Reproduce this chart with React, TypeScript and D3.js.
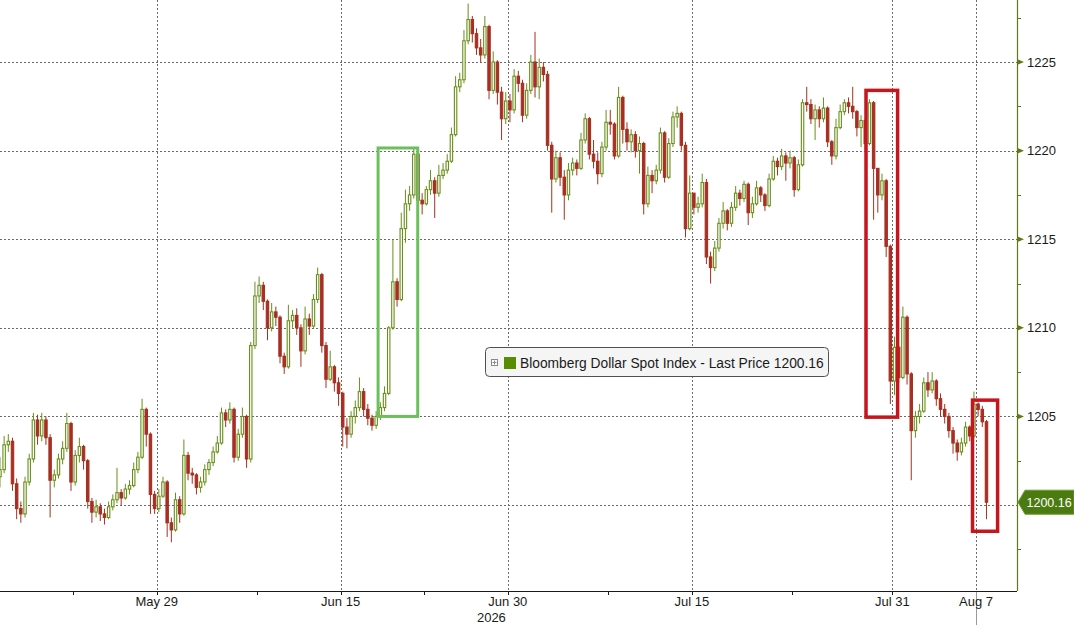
import React from "react";
import * as d3 from "d3";

// [close, high, low]; each bar opens at the previous close
type Bar = [number, number, number];

const firstOpen = 1201.6;

const mayBars: Bar[] = [
  [1202.0, 1202.7, 1201.0], [1203.4, 1203.9, 1201.8], [1203.6, 1204.0, 1203.0], [1201.2, 1203.8, 1200.8],
  [1199.8, 1201.5, 1199.2], [1199.5, 1200.2, 1199.0], [1201.3, 1201.6, 1199.3], [1202.6, 1202.9, 1201.1],
  [1204.8, 1205.2, 1202.4], [1203.9, 1205.1, 1203.4], [1204.8, 1205.2, 1203.6], [1203.8, 1205.0, 1203.4],
  [1201.4, 1204.0, 1199.3], [1201.7, 1202.0, 1201.0], [1202.6, 1202.9, 1201.5], [1203.2, 1203.6, 1202.3],
  [1204.6, 1205.2, 1203.0], [1201.3, 1204.7, 1200.8], [1202.8, 1203.1, 1201.1], [1203.3, 1203.8, 1202.4],
  [1202.5, 1203.4, 1202.0], [1200.2, 1202.6, 1199.8], [1199.6, 1200.4, 1199.0], [1199.9, 1200.3, 1199.3],
  [1199.5, 1200.1, 1199.1], [1199.3, 1199.8, 1198.9], [1199.9, 1200.2, 1199.2], [1200.3, 1200.6, 1199.7],
  [1200.7, 1202.1, 1200.1], [1200.4, 1200.9, 1200.0], [1200.9, 1201.2, 1200.3], [1201.1, 1201.4, 1200.6],
  [1202.0, 1202.4, 1201.0], [1202.7, 1203.0, 1201.8], [1205.4, 1206.0, 1202.6], [1204.0, 1205.5, 1203.3],
  [1200.6, 1204.1, 1199.5], [1199.8, 1200.8, 1199.5], [1200.5, 1200.9, 1199.6], [1201.3, 1201.6, 1200.4],
  [1199.0, 1201.4, 1198.2], [1198.6, 1199.3, 1197.9],
];

const junBars: Bar[] = [
  [1200.3, 1200.7, 1198.5], [1199.5, 1200.5, 1199.0], [1202.8, 1203.7, 1199.4], [1201.8, 1203.0, 1201.4],
  [1201.7, 1202.1, 1201.2], [1201.0, 1201.8, 1200.6], [1201.3, 1201.6, 1200.7], [1202.0, 1202.3, 1201.1],
  [1202.4, 1202.6, 1201.7], [1203.0, 1203.3, 1202.2], [1203.5, 1203.9, 1202.9], [1205.2, 1205.5, 1203.4],
  [1204.8, 1205.4, 1204.4], [1205.4, 1205.8, 1204.6], [1202.7, 1205.5, 1202.4], [1204.0, 1204.3, 1202.5],
  [1205.0, 1205.5, 1203.8], [1202.6, 1205.1, 1202.1], [1209.0, 1209.2, 1202.4], [1211.8, 1212.6, 1208.8],
  [1212.4, 1212.9, 1211.4], [1211.5, 1212.6, 1211.0], [1210.0, 1211.6, 1209.3], [1210.9, 1211.4, 1209.8],
  [1210.6, 1211.2, 1210.1], [1208.4, 1210.7, 1208.0], [1207.8, 1208.6, 1207.4], [1210.4, 1211.3, 1207.7],
  [1210.7, 1211.0, 1210.0], [1210.0, 1211.1, 1209.6], [1208.7, 1210.2, 1207.8], [1210.5, 1211.2, 1208.5],
  [1210.1, 1210.8, 1209.6], [1211.6, 1211.9, 1210.0], [1213.0, 1213.4, 1211.4], [1209.0, 1213.1, 1208.6],
  [1207.1, 1209.2, 1206.6], [1207.8, 1208.7, 1207.0], [1206.9, 1207.9, 1206.4], [1206.3, 1207.2, 1205.6],
  [1204.4, 1206.4, 1203.3], [1204.0, 1204.9, 1203.2], [1205.0, 1205.3, 1203.8], [1205.5, 1205.9, 1204.6],
  [1206.4, 1207.2, 1205.3], [1205.4, 1206.6, 1205.0], [1204.9, 1205.7, 1204.5], [1204.5, 1205.1, 1204.2],
  [1205.0, 1205.3, 1204.3], [1205.5, 1205.8, 1204.8], [1206.3, 1206.7, 1205.3], [1210.0, 1210.1, 1206.2],
  [1212.6, 1215.0, 1209.9], [1211.6, 1212.8, 1211.2], [1215.6, 1216.5, 1211.5], [1217.0, 1217.8, 1214.8],
  [1217.5, 1218.0, 1216.6], [1219.8, 1220.2, 1217.3], [1217.2, 1219.9, 1216.6], [1217.0, 1217.6, 1216.4],
  [1217.8, 1218.0, 1216.9], [1218.3, 1218.9, 1217.5], [1217.6, 1218.5, 1216.2], [1218.6, 1219.2, 1217.4],
  [1218.9, 1219.3, 1218.4], [1219.4, 1219.8, 1218.7], [1220.9, 1221.3, 1219.3], [1223.6, 1224.2, 1220.8],
  [1224.0, 1224.4, 1223.3], [1226.2, 1226.8, 1223.8], [1227.4, 1228.3, 1226.0], [1226.6, 1227.6, 1226.1],
  [1225.8, 1226.9, 1225.4], [1225.4, 1226.3, 1225.0], [1227.0, 1227.6, 1225.2], [1223.4, 1227.1, 1222.9],
  [1225.0, 1225.6, 1223.2], [1223.3, 1225.1, 1222.6], [1221.8, 1223.6, 1220.6], [1222.8, 1223.3, 1221.5],
  [1222.3, 1223.2, 1221.6], [1224.2, 1224.6, 1222.1], [1223.8, 1224.5, 1223.3], [1222.0, 1224.0, 1221.6],
];

const julBars: Bar[] = [
  [1223.4, 1223.8, 1221.8], [1225.0, 1225.4, 1223.2], [1223.6, 1226.7, 1223.0], [1224.7, 1225.2, 1222.9],
  [1224.3, 1225.0, 1223.9], [1220.3, 1224.5, 1220.0], [1218.4, 1220.5, 1216.5], [1219.6, 1220.0, 1218.2],
  [1218.5, 1219.9, 1218.0], [1217.5, 1218.9, 1216.1], [1218.9, 1219.3, 1217.2], [1219.3, 1219.6, 1218.6],
  [1219.0, 1219.5, 1218.6], [1220.6, 1221.0, 1218.9], [1221.8, 1222.1, 1220.4], [1219.8, 1221.9, 1219.5],
  [1219.4, 1220.6, 1219.0], [1218.7, 1219.9, 1218.1], [1220.2, 1220.5, 1218.5], [1221.6, 1222.3, 1220.0],
  [1221.5, 1222.3, 1220.9], [1219.7, 1221.6, 1219.5], [1223.0, 1223.6, 1219.6], [1221.2, 1223.1, 1220.4],
  [1220.5, 1221.6, 1220.0], [1220.9, 1221.2, 1219.9], [1220.0, 1221.1, 1219.6], [1220.4, 1220.8, 1218.7],
  [1217.0, 1220.5, 1216.4], [1218.6, 1219.1, 1216.8], [1218.3, 1218.9, 1217.6], [1218.9, 1219.2, 1218.1],
  [1221.0, 1221.3, 1218.7], [1218.5, 1221.1, 1218.2], [1220.4, 1220.7, 1218.4], [1221.9, 1222.2, 1220.2],
  [1222.1, 1222.5, 1221.3], [1220.3, 1222.2, 1220.0], [1215.6, 1220.5, 1215.1], [1217.6, 1218.6, 1215.5],
  [1216.8, 1217.6, 1216.4], [1217.0, 1217.4, 1216.5], [1218.2, 1218.7, 1216.8], [1214.0, 1218.4, 1213.6],
  [1213.4, 1214.3, 1212.5], [1214.5, 1214.9, 1213.2], [1215.9, 1216.2, 1214.3], [1216.6, 1217.1, 1215.6],
  [1215.9, 1216.7, 1215.5], [1216.8, 1217.1, 1215.7], [1217.6, 1218.0, 1216.6], [1217.3, 1217.8, 1216.9],
  [1218.1, 1218.3, 1217.1], [1216.5, 1218.2, 1215.8], [1217.0, 1217.4, 1216.2], [1217.9, 1218.3, 1216.9],
  [1217.5, 1218.0, 1217.1], [1216.9, 1217.6, 1216.6], [1218.4, 1218.7, 1216.8], [1219.4, 1219.7, 1218.3],
  [1219.1, 1219.6, 1218.6], [1219.7, 1220.1, 1218.9], [1219.3, 1219.9, 1218.3], [1219.6, 1220.0, 1219.0],
  [1217.8, 1219.7, 1217.4], [1219.2, 1219.5, 1217.7], [1222.7, 1222.9, 1219.1], [1222.6, 1223.6, 1222.2],
  [1221.8, 1222.9, 1221.5], [1222.3, 1222.6, 1220.6], [1221.8, 1222.5, 1221.3], [1222.4, 1223.0, 1221.6],
  [1220.5, 1222.5, 1220.2], [1219.7, 1220.6, 1219.2], [1221.3, 1221.8, 1219.5], [1222.2, 1222.6, 1221.2],
  [1222.7, 1222.9, 1222.0], [1222.5, 1223.0, 1222.1], [1222.2, 1223.6, 1221.8], [1221.3, 1222.3, 1220.8],
  [1221.7, 1222.0, 1220.2], [1220.4, 1221.8, 1220.0], [1222.7, 1222.9, 1220.3], [1219.0, 1222.8, 1216.1],
  [1217.5, 1218.3, 1216.5], [1218.3, 1218.7, 1217.2], [1214.6, 1218.4, 1214.0], [1207.0, 1214.7, 1205.7],
  [1208.9, 1209.5, 1206.2], [1207.2, 1209.0, 1206.9], [1210.6, 1211.2, 1207.1], [1207.4, 1210.7, 1206.8],
];

const augBars: Bar[] = [
  [1204.2, 1207.5, 1201.4], [1205.0, 1205.3, 1203.8], [1205.3, 1205.7, 1204.6], [1206.9, 1207.2, 1205.2],
  [1206.5, 1207.5, 1206.1], [1207.0, 1207.5, 1206.3], [1206.0, 1207.1, 1205.6], [1205.4, 1206.3, 1205.0],
  [1205.0, 1205.7, 1204.6], [1204.2, 1205.2, 1203.8], [1203.5, 1204.4, 1202.9], [1203.0, 1203.7, 1202.5],
  [1203.5, 1203.8, 1202.8], [1204.4, 1204.7, 1203.3], [1203.9, 1204.5, 1203.6], [1205.7, 1206.4, 1203.8],
  [1205.4, 1205.8, 1205.0], [1204.7, 1205.6, 1204.4], [1200.16, 1204.8, 1199.2],
];

// x axis is in trading days counted from May 29
const barsPerDay = 4;
const firstBarDay = -9.375;
const tickDays = [0, 11, 21, 32, 44, 49];
const tickLabels = ["May 29", "Jun 15", "Jun 30", "Jul 15", "Jul 31", "Aug 7"];
const minorTickDays = [-5, 6, 16, 27, 38];
const yearLabel = "2026";

const priceTicks = [1200, 1205, 1210, 1215, 1220, 1225];
const minorPriceTicks = [1197.5, 1202.5, 1207.5, 1212.5, 1217.5, 1222.5, 1227.5];
const lastPrice = 1200.16;
const seriesName = "Bloomberg Dollar Spot Index - Last Price";

const highlightBoxes = [
  { from: 13.24, to: 15.61, low: 1205.0, high: 1220.15, color: "#6cc05c", width: 3 },
  { from: 42.42, to: 44.31, low: 1204.96, high: 1223.4, color: "#c4161c", width: 3.5 },
  { from: 48.79, to: 50.29, low: 1198.52, high: 1205.92, color: "#c4161c", width: 3.5 },
];

const W = 1074;
const H = 625;
const plotRight = 1017;
const plotBottom = 591;

const font = "'Liberation Sans', Arial, sans-serif";
const upColor = "#688f17";
const downFill = "#b02a28";
const downStroke = "#a3321f";
const axisGreen = "#5f7a14";
const gridColor = "#6a6a6a";

export default function App() {
  const x = d3.scaleLinear().domain([-9.372, 51.45]).range([0, plotRight]);
  const y = d3.scaleLinear().domain([1195.15, 1228.5]).range([plotBottom, 0]);

  const bars = [...mayBars, ...junBars, ...julBars, ...augBars];
  const candles = bars.map(([c, h, l], i) => {
    const o = i === 0 ? firstOpen : bars[i - 1][0];
    return {
      t: firstBarDay + i / barsPerDay,
      o,
      c,
      h: Math.max(h, o, c),
      l: Math.min(l, o, c),
    };
  });

  const bodyW = 2.4;

  return (
    <div style={{ position: "absolute", left: 0, top: 0 }}>
      <svg width={W} height={H} style={{ display: "block", background: "#fff" }}>
        <defs>
          <clipPath id="plot-clip">
            <rect x={0} y={0} width={plotRight} height={plotBottom} />
          </clipPath>
        </defs>

        {/* grid */}
        <g stroke={gridColor} strokeWidth={1} strokeDasharray="2,2">
          {priceTicks.map((p) => (
            <line key={p} x1={0} x2={plotRight} y1={Math.round(y(p)) + 0.5} y2={Math.round(y(p)) + 0.5} />
          ))}
          {tickDays.map((d) => (
            <line key={d} x1={Math.round(x(d)) + 0.5} x2={Math.round(x(d)) + 0.5} y1={0} y2={plotBottom} />
          ))}
        </g>

        {/* candles */}
        <g clipPath="url(#plot-clip)">
          {candles.map((k, i) => {
            const cx = x(k.t);
            const up = k.c >= k.o;
            const top = y(Math.max(k.o, k.c));
            const bh = Math.max(0.8, Math.abs(y(k.o) - y(k.c)));
            return (
              <g key={i}>
                <line x1={cx} x2={cx} y1={y(k.h)} y2={y(k.l)} stroke={up ? upColor : downStroke} strokeWidth={1} />
                <rect
                  x={cx - bodyW / 2}
                  y={top}
                  width={bodyW}
                  height={bh}
                  fill={up ? "#ffffff" : downFill}
                  stroke={up ? upColor : downStroke}
                  strokeWidth={1.1}
                />
              </g>
            );
          })}
        </g>

        {/* highlight boxes */}
        {highlightBoxes.map((b, i) => (
          <rect
            key={i}
            x={x(b.from)}
            y={y(b.high)}
            width={x(b.to) - x(b.from)}
            height={y(b.low) - y(b.high)}
            fill="none"
            stroke={b.color}
            strokeWidth={b.width}
          />
        ))}

        {/* bottom axis */}
        <line x1={0} x2={plotRight} y1={plotBottom + 0.5} y2={plotBottom + 0.5} stroke="#1a1a1a" strokeWidth={1.2} />
        {[...tickDays, ...minorTickDays].map((d) => (
          <line key={d} x1={Math.round(x(d)) + 0.5} x2={Math.round(x(d)) + 0.5} y1={plotBottom} y2={plotBottom + 4} stroke="#1a1a1a" />
        ))}
        <line x1={Math.round(x(49)) + 0.5} x2={Math.round(x(49)) + 0.5} y1={plotBottom + 1} y2={H} stroke="#9a9a9a" />
        {tickDays.map((d, i) => (
          <text key={d} x={x(d)} y={606} textAnchor="middle" fontFamily={font} fontSize={13} fill="#1a1a1a">
            {tickLabels[i]}
          </text>
        ))}
        <text x={x(21) - 2} y={622} textAnchor="end" fontFamily={font} fontSize={13} fill="#1a1a1a">
          {yearLabel}
        </text>

        {/* right axis */}
        <line x1={plotRight + 0.5} x2={plotRight + 0.5} y1={0} y2={plotBottom} stroke={axisGreen} strokeWidth={1.2} />
        {minorPriceTicks.map((p) => (
          <line key={p} x1={plotRight} x2={plotRight + 4} y1={Math.round(y(p)) + 0.5} y2={Math.round(y(p)) + 0.5} stroke={axisGreen} />
        ))}
        {priceTicks
          .filter((p) => p !== 1200)
          .map((p) => (
            <g key={p}>
              <path
                d={`M${plotRight},${y(p) - 3} L${plotRight + 7},${y(p)} L${plotRight},${y(p) + 3} Z`}
                fill={axisGreen}
              />
              <text x={plotRight + 10} y={y(p)} dy="0.35em" fontFamily={font} fontSize={13} fill="#1a1a1a">
                {p}
              </text>
            </g>
          ))}

        {/* last price tag */}
        <path
          d={`M${plotRight + 1},${y(lastPrice)} L${plotRight + 8},${y(lastPrice) - 12} L${W},${y(lastPrice) - 12} L${W},${y(lastPrice) + 12} L${plotRight + 8},${y(lastPrice) + 12} Z`}
          fill="#4a7a10"
          stroke="#6f9a2c"
          strokeWidth={1}
        />
        <text x={plotRight + 9.5} y={y(lastPrice)} dy="0.36em" fontFamily={font} fontSize={12.5} fill="#ffffff">
          {lastPrice.toFixed(2)}
        </text>

        {/* legend */}
        <g>
          <rect x={485.5} y={347.5} width={343} height={29} rx={4} fill="#f5f5f5" stroke="#505050" strokeWidth={1} />
          <rect x={491.5} y={359.5} width={6} height={6} fill="#fff" stroke="#8a8a8a" strokeWidth={1} />
          <line x1={492.5} x2={496.5} y1={362.5} y2={362.5} stroke="#8a8a8a" />
          <line x1={494.5} x2={494.5} y1={360.5} y2={364.5} stroke="#8a8a8a" />
          <rect x={504} y={357} width={12} height={12} fill="#5a8c00" />
          <text x={520} y={367.5} fontFamily={font} fontSize={13.8} fill="#1a1a1a">
            {`${seriesName} ${lastPrice.toFixed(2)}`}
          </text>
        </g>
      </svg>
    </div>
  );
}
